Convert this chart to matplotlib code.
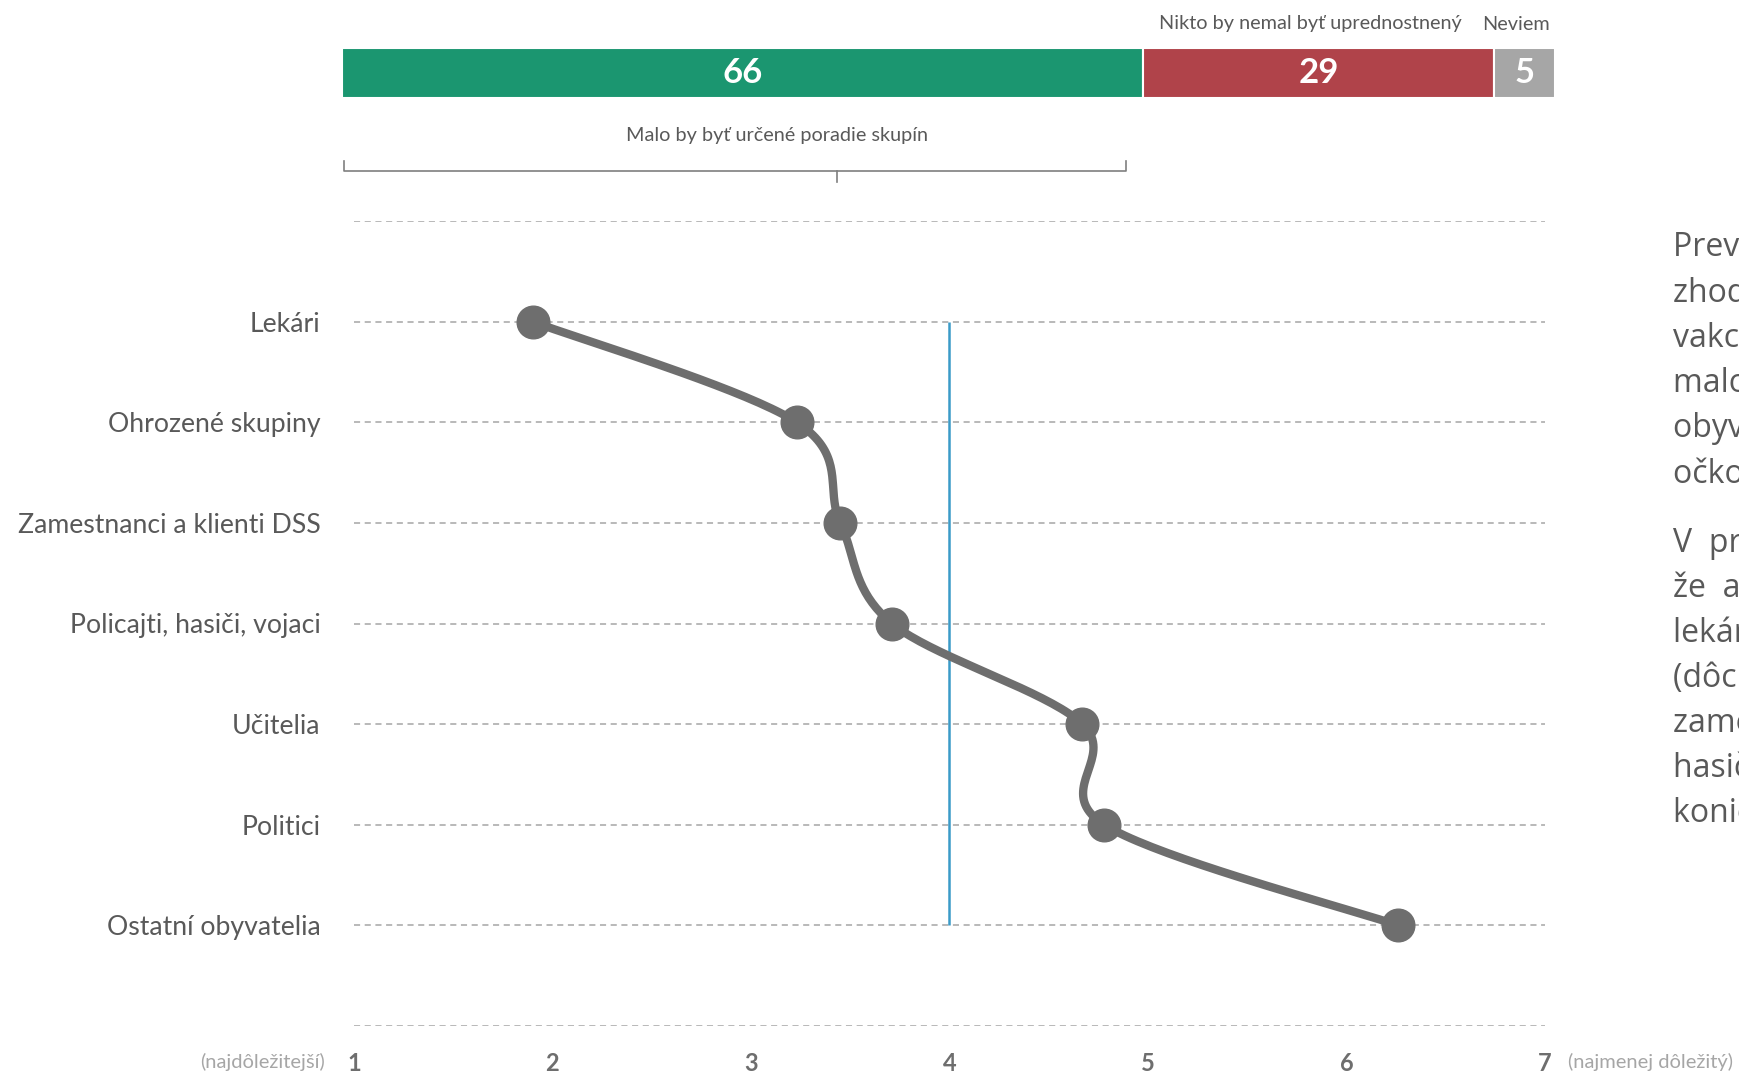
import numpy as np
import matplotlib.pyplot as plt

plt.rcParams['font.family'] = ['Lato', 'DejaVu Sans']

# data
categories = ['Lekári', 'Ohrozené skupiny', 'Zamestnanci a klienti DSS',
              'Policajti, hasiči, vojaci', 'Učitelia', 'Politici', 'Ostatní obyvatelia']
avg_rank = [1.90, 3.23, 3.45, 3.71, 4.67, 4.78, 6.26]
mid_value = 4

bar_values = [66, 29, 5]
bar_labels = ['', 'Nikto by nemal byť uprednostnený', 'Neviem']
bar_colors = ['#1b9670', '#b0434a', '#a6a6a6']
bracket_label = 'Malo by byť určené poradie skupín'

x_ticks = [1, 2, 3, 4, 5, 6, 7]
left_note = '(najdôležitejší)'
right_note = '(najmenej dôležitý)'

side_text = ('Prevažná väčšina respondentov sa\n'
             'zhoduje na tom, že pri očkovaní\n'
             'vakcínou proti ochoreniu COVID-19 by\n'
             'malo byť určené poradie skupín\n'
             'obyvateľstva, ktoré majú dostať\n'
             'očkovanie prednostne.')
side_text2 = ('V  priemernom poradí ľudia uviedli,\n'
              'že  ako prví by mali byť očkovaní\n'
              'lekári, za nimi ohrozené skupiny\n'
              '(dôchodcovia, chronicky chorí),\n'
              'zamestnanci a klienti DSS, policajti,\n'
              'hasiči a vojaci. Učitelia, politici a na\n'
              'koniec zoznamu ostatní obyvatelia.')

W, H = 1740, 1074
fig = plt.figure(figsize=(W / 100, H / 100), dpi=100)

# ---- top stacked bar
axb = fig.add_axes([342 / W, 1 - 98 / H, (1555 - 342) / W, 50 / H])
left = 0
for v, lab, c in zip(bar_values, bar_labels, bar_colors):
    axb.barh(0, v, left=left, height=1, color=c, edgecolor='white', linewidth=1.5)
    axb.text(left + v / 2, 0, str(v), ha='center', va='center', color='white',
             fontsize=25, fontweight='bold')
    if lab:
        axb.text(left + v / 2 - 0.7, 1.48, lab, ha='center', va='center', color='#595959',
                 fontsize=14.3, transform=axb.get_xaxis_transform())
    left += v
axb.set_xlim(0, 100)
axb.set_ylim(-0.5, 0.5)
axb.axis('off')

# bracket under the green part
tr = axb.get_xaxis_transform()
bx0, bx1, bmid = 0.2, 64.6, 40.8
axb.plot([bx0, bx0, bx1, bx1], [-1.26, -1.46, -1.46, -1.26], color='#7f7f7f',
         lw=1.2, transform=tr, clip_on=False)
axb.plot([bmid, bmid], [-1.46, -1.68], color='#7f7f7f', lw=1.2, transform=tr, clip_on=False)
axb.text(35.9, -0.75, bracket_label, ha='center', va='center', color='#595959',
         fontsize=14.3, transform=tr)

# ---- main chart
ax = fig.add_axes([354 / W, 1 - 1026 / H, (1545 - 354) / W, (1026 - 221) / H])
ypos = np.arange(1, len(categories) + 1)

for g in range(0, len(categories) + 2):
    ax.axhline(g, color='#a6a6a6', lw=1.1, ls=(0, (4, 3)), zorder=1)

ax.vlines(mid_value, ypos[0], ypos[-1], color='#3a9bc8', lw=1.8, zorder=2)

# smoothed line (Catmull-Rom bezier like Excel)
P = np.column_stack([avg_rank, ypos]).astype(float)
Pext = np.vstack([P[0], P, P[-1]])
t = np.linspace(0, 1, 40)[:, None]
curve = []
for i in range(len(P) - 1):
    p0, p1, p2, p3 = Pext[i], Pext[i + 1], Pext[i + 2], Pext[i + 3]
    c1 = p1 + (p2 - p0) / 6
    c2 = p2 - (p3 - p1) / 6
    seg = ((1 - t) ** 3) * p1 + 3 * ((1 - t) ** 2) * t * c1 + 3 * (1 - t) * t ** 2 * c2 + t ** 3 * p2
    curve.append(seg)
curve = np.vstack(curve)
ax.plot(curve[:, 0], curve[:, 1], color='#6e6e6e', lw=6, solid_capstyle='round', zorder=3)
ax.plot(avg_rank, ypos, 'o', color='#6e6e6e', ms=23.5, zorder=4)

ax.set_xlim(1, 7)
ax.set_ylim(len(categories) + 1, 0)
ax.set_yticks(ypos)
ax.set_yticklabels(categories, fontsize=19.2, color='#595959')
ax.set_xticks(x_ticks)
ax.set_xticklabels([str(v) for v in x_ticks], fontsize=17, fontweight='bold', color='#6e6e6e')
ax.tick_params(axis='y', length=0, pad=24)
ax.tick_params(axis='x', length=0, pad=19)
for s in ax.spines.values():
    s.set_visible(False)

fig.text(325 / W, 1 - 1062 / H, left_note, ha='right', va='center', color='#a6a6a6', fontsize=14.5)
fig.text(1568 / W, 1 - 1062 / H, right_note, ha='left', va='center', color='#a6a6a6', fontsize=14.5)

# ---- side text (cut by the right edge)
fig.text(1673 / W, 1 - 231 / H, side_text, ha='left', va='top', color='#595959',
         fontsize=23, linespacing=1.46, family=['Open Sans', 'DejaVu Sans'])
fig.text(1673 / W, 1 - 526 / H, side_text2, ha='left', va='top', color='#595959',
         fontsize=23, linespacing=1.46, family=['Open Sans', 'DejaVu Sans'])

fig.savefig('out.png', dpi=100)
